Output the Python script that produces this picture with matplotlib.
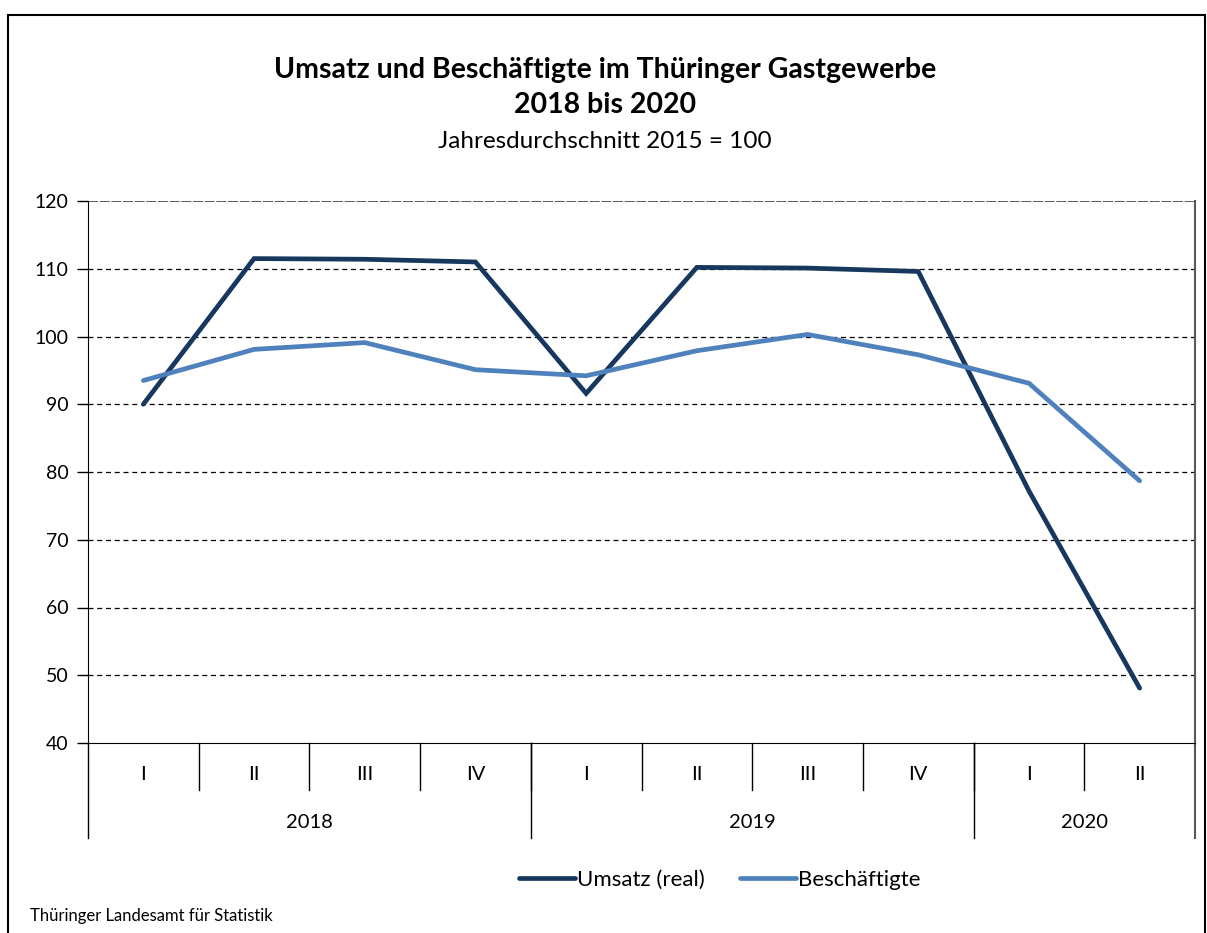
import matplotlib
matplotlib.use('Agg')
import numpy as np
import matplotlib.pyplot as plt
from matplotlib.patches import Rectangle
import matplotlib.transforms as mtransforms

plt.rcParams['font.family'] = ['Lato', 'DejaVu Sans']

quarters = ["I", "II", "III", "IV", "I", "II", "III", "IV", "I", "II"]
years = ["2018", "2019", "2020"]
quarters_per_year = [4, 4, 2]
umsatz = [90.0, 111.5, 111.4, 111.0, 91.6, 110.2, 110.1, 109.6, 77.2, 48.1]
beschaeftigte = [93.5, 98.1, 99.1, 95.1, 94.2, 97.9, 100.3, 97.3, 93.1, 78.7]

W, H = 1207, 933
fig = plt.figure(figsize=(W / 100, H / 100), dpi=100)
ax = fig.add_axes([88 / W, 1 - 743 / H, 1107 / W, 542 / H])

x = np.arange(len(quarters)) + 0.5
l1, = ax.plot(x, umsatz, color='#17375E', linewidth=3.4, solid_joinstyle='miter',
              solid_capstyle='round', label='Umsatz (real)')
l2, = ax.plot(x, beschaeftigte, color='#4F81BD', linewidth=3.4, solid_joinstyle='miter',
              solid_capstyle='round', label='Beschäftigte')

ax.set_xlim(0, len(quarters))
ax.set_ylim(40, 120)
ax.set_yticks(range(40, 121, 10))
ax.tick_params(axis='y', direction='out', length=8, width=1, labelsize=14, pad=6)
ax.set_xticks([])
for y in range(50, 120, 10):
    ax.axhline(y, color='black', linestyle=(0, (4, 3)), linewidth=0.9, zorder=0)
ax.axhline(120, color='#404040', linestyle=(0, (6, 1)), linewidth=1.2, zorder=0)
ax.spines['top'].set_visible(False)
ax.spines['right'].set_color('#595959')
ax.spines['right'].set_linewidth(1.5)

# category axis with two levels
trans = mtransforms.blended_transform_factory(ax.transData, ax.transAxes)
q_bottom = -(790 - 743) / 542
y_bottom = -(838 - 743) / 542
for i, q in enumerate(quarters):
    ax.text(i + 0.5, -(775 - 743) / 542, q, transform=trans, ha='center', va='center', fontsize=14.5)
    if i > 0:
        ax.plot([i, i], [0, q_bottom], transform=trans, color='black', linewidth=1, clip_on=False)
start = 0
for yr, n in zip(years, quarters_per_year):
    ax.text(start + n / 2, -(823 - 743) / 542, yr, transform=trans, ha='center', va='center', fontsize=14.5)
    ax.plot([start, start], [0, y_bottom], transform=trans, color='black', linewidth=1, clip_on=False)
    start += n
ax.plot([start, start], [0, y_bottom], transform=trans, color='#595959', linewidth=1.5, clip_on=False)

fig.text(605 / W, 1 - 70 / H, 'Umsatz und Beschäftigte im Thüringer Gastgewerbe',
         ha='center', va='center', fontsize=20.5, fontweight='bold')
fig.text(605 / W, 1 - 105 / H, '2018 bis 2020', ha='center', va='center', fontsize=20.5, fontweight='bold')
fig.text(605 / W, 1 - 141 / H, 'Jahresdurchschnitt 2015 = 100', ha='center', va='center', fontsize=17.5)

fig.legend(handles=[l1, l2], loc='center', bbox_to_anchor=(720 / W, 1 - 880 / H), ncol=2,
           frameon=False, fontsize=16, handlelength=2.5, handletextpad=0.1, columnspacing=1.6)

fig.text(30 / W, 1 - 916 / H, 'Thüringer Landesamt für Statistik', ha='left', va='center', fontsize=12)

fig.patches.append(Rectangle((8 / W, -0.01), (1205 - 8) / W, 1 - 15 / H + 0.01,
                             transform=fig.transFigure, fill=False, edgecolor='black', linewidth=1.5))

fig.savefig('out.png', dpi=100)
